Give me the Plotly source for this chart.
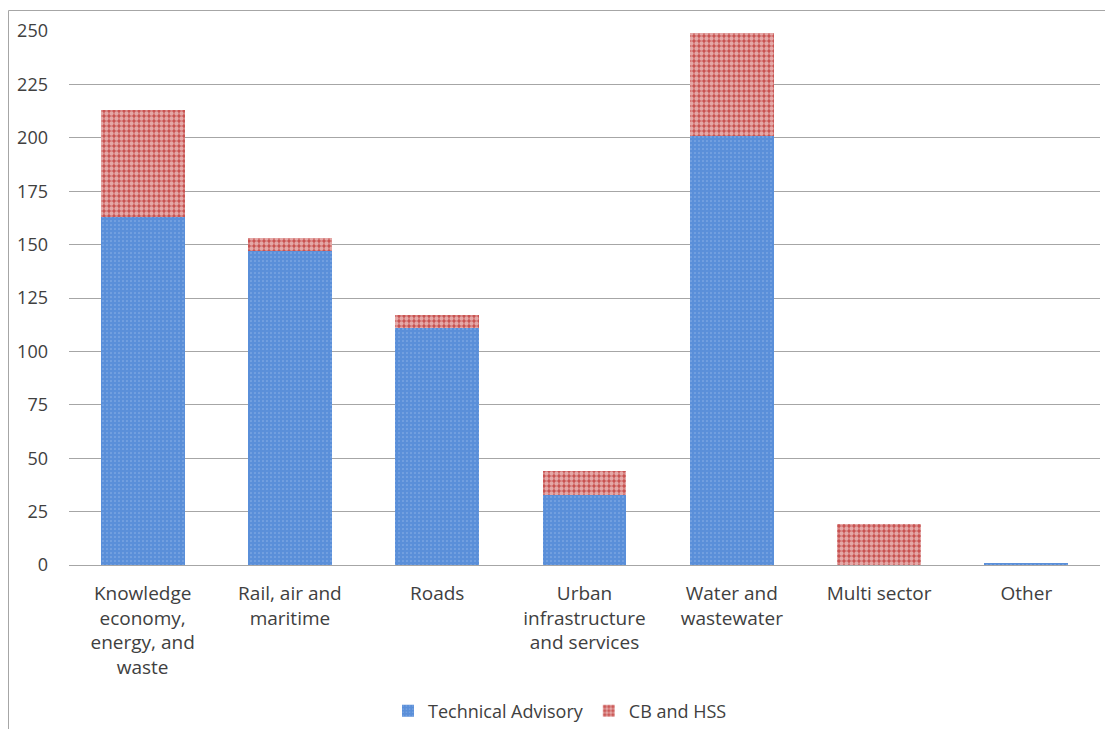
import plotly.graph_objects as go

# Sector categories and stacked series (number of assignments)
categories = [
    "Knowledge<br>economy,<br>energy, and<br>waste",
    "Rail, air and<br>maritime",
    "Roads",
    "Urban<br>infrastructure<br>and services",
    "Water and<br>wastewater",
    "Multi sector",
    "Other",
]
technical_advisory = [163, 147, 111, 33, 201, 0, 1]
cb_and_hss = [50, 6, 6, 11, 48, 19, 0]
y_ticks = [0, 25, 50, 75, 100, 125, 150, 175, 200, 225, 250]

W, H = 1105, 729
L, R, T, B = 69, 5, 31, 164
plot_w = W - L - R
plot_h = H - T - B

def px_x(p):
    return (p - L) / plot_w

def px_y(p):
    return (H - B - p) / plot_h

font_family = "Open Sans, Noto Sans, sans-serif"
text_color = "#404040"

fig = go.Figure()
fig.add_trace(go.Bar(
    name="Technical Advisory",
    x=categories,
    y=technical_advisory,
    marker=dict(
        color="#5a8fd9",
        line=dict(width=0),
        pattern=dict(shape=".", fgcolor="#c9dbf5", bgcolor="#5a8fd9",
                     size=4, solidity=0.12, fillmode="overlay"),
    ),
))
fig.add_trace(go.Bar(
    name="CB and HSS",
    x=categories,
    y=cb_and_hss,
    marker=dict(
        color="#c8504e",
        line=dict(width=0),
        pattern=dict(shape=".", fgcolor="#ffffff", bgcolor="#c8504e",
                     size=5, solidity=0.6, fillmode="overlay"),
    ),
))

# outer frame of the chart area
frame = dict(color="#a6a6a6", width=1)
fig.add_shape(type="line", xref="paper", yref="paper",
              x0=px_x(8.5), x1=px_x(8.5), y0=px_y(10.5), y1=px_y(H + 5), line=frame)
fig.add_shape(type="line", xref="paper", yref="paper",
              x0=px_x(8.5), x1=px_x(W + 5), y0=px_y(10.5), y1=px_y(10.5), line=frame)

fig.update_layout(
    width=W, height=H,
    barmode="stack",
    bargap=0.43,
    margin=dict(l=L, r=R, t=T, b=B, autoexpand=False),
    paper_bgcolor="white",
    plot_bgcolor="white",
    font=dict(family=font_family, size=18, color=text_color),
    showlegend=True,
    legend=dict(
        orientation="h", x=px_x(560), xanchor="center",
        y=px_y(711), yanchor="middle",
        font=dict(size=18, color=text_color),
        itemwidth=30, traceorder="normal",
        bgcolor="rgba(0,0,0,0)",
    ),
    xaxis=dict(
        showgrid=False, showline=False, ticks="",
        tickfont=dict(size=19, color=text_color),
        ticklabelstandoff=15,
    ),
    yaxis=dict(
        range=[0, 250], tickvals=y_ticks,
        showgrid=True, gridcolor="#a6a6a6", gridwidth=1,
        zeroline=True, zerolinecolor="#a6a6a6", zerolinewidth=1,
        showline=False, ticks="",
        tickfont=dict(size=18, color=text_color),
        ticklabelstandoff=20,
    ),
)

fig.write_html("out.html")
